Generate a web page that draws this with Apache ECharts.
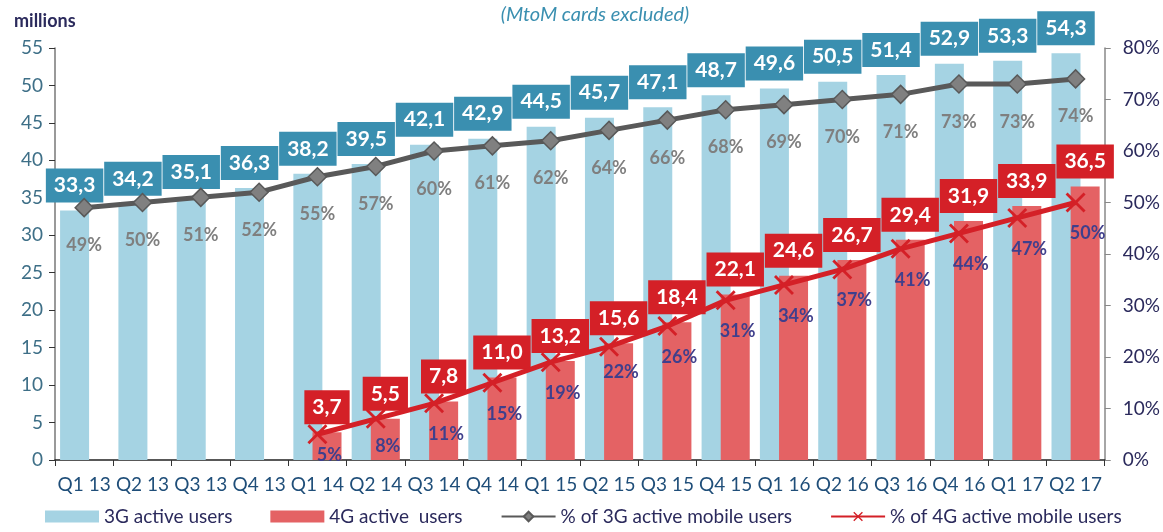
<!DOCTYPE html>
<html>
<head>
<meta charset="utf-8">
<script src="https://cdn.jsdelivr.net/npm/echarts@6/dist/echarts.min.js"></script>
<style>
  html, body { margin: 0; padding: 0; background: #fff; }
  #chart { width: 1163px; height: 532px; }
</style>
</head>
<body>
<div id="chart"></div>
<script>
// quarters shown on the x axis
const quarters = ['Q1 13', 'Q2 13', 'Q3 13', 'Q4 13', 'Q1 14', 'Q2 14', 'Q3 14', 'Q4 14',
  'Q1 15', 'Q2 15', 'Q3 15', 'Q4 15', 'Q1 16', 'Q2 16', 'Q3 16', 'Q4 16', 'Q1 17', 'Q2 17'];

// active users, millions
const users3G = [33.3, 34.2, 35.1, 36.3, 38.2, 39.5, 42.1, 42.9, 44.5, 45.7, 47.1, 48.7,
  49.6, 50.5, 51.4, 52.9, 53.3, 54.3];
const users4G = [null, null, null, null, 3.7, 5.5, 7.8, 11.0, 13.2, 15.6, 18.4, 22.1,
  24.6, 26.7, 29.4, 31.9, 33.9, 36.5];

// share of active mobile users, %
const share3G = [49, 50, 51, 52, 55, 57, 60, 61, 62, 64, 66, 68, 69, 70, 71, 73, 73, 74];
const share4G = [null, null, null, null, 5, 8, 11, 15, 19, 22, 26, 31, 34, 37, 41, 44, 47, 50];

const FONT = 'Lato, "Open Sans", sans-serif';
const CROSS = 'path://M2,0L10,8L18,0L20,2L12,10L20,18L18,20L10,12L2,20L0,18L8,10L0,2Z';

const comma = v => v.toFixed(1).replace('.', ',');

// a few 4G % labels sit closer to their point in the original
const nearLabel = { 4: 2, 5: 8, 9: 6 };

const boxLabel = (bg) => ({
  show: true,
  position: 'top',
  distance: 8,
  formatter: p => comma(p.value),
  backgroundColor: bg,
  color: '#fff',
  fontFamily: FONT,
  fontWeight: 'bold',
  fontSize: 21,
  lineHeight: 24,
  padding: [5, 8]
});

const chart = echarts.init(document.getElementById('chart'));

chart.setOption({
  animation: false,
  title: [
    { text: 'millions', left: 9, top: 7,
      textStyle: { fontFamily: FONT, fontSize: 18, fontWeight: 'bold', color: '#2B2A5C' } },
    { text: '(MtoM cards excluded)', left: 590, top: 0, textAlign: 'center',
      textStyle: { fontFamily: FONT, fontSize: 20, fontStyle: 'italic', fontWeight: 'normal', color: '#3A8FB0' } }
  ],
  grid: { left: 55, right: 58, top: 48, bottom: 72 },
  legend: {
    left: 40, bottom: 1,
    itemWidth: 54, itemHeight: 12, itemGap: 38,
    textStyle: { fontFamily: FONT, fontSize: 19, color: '#2B2A5C' },
    data: [
      { name: '3G active users', icon: 'rect' },
      { name: '4G active  users', icon: 'rect' },
      { name: '% of 3G active mobile users' },
      { name: '% of 4G active mobile users' }
    ]
  },
  xAxis: {
    type: 'category',
    data: quarters,
    axisLine: { lineStyle: { color: '#222', width: 1.5 } },
    axisTick: { show: true, length: 6, lineStyle: { color: '#333' } },
    axisLabel: { fontFamily: FONT, fontSize: 19, color: '#1F4E79', margin: 15, interval: 0 }
  },
  yAxis: [
    {
      type: 'value', min: 0, max: 55, interval: 5,
      axisLine: { show: true, lineStyle: { color: '#777', width: 1.5 } },
      axisTick: { show: true, length: 6, lineStyle: { color: '#333' } },
      splitLine: { show: false },
      axisLabel: { fontFamily: FONT, fontSize: 19, color: '#3E6F87', margin: 12 }
    },
    {
      type: 'value', min: 0, max: 80, interval: 10,
      axisLine: { show: true, lineStyle: { color: '#888', width: 1.5 } },
      axisTick: { show: true, length: 6, lineStyle: { color: '#888' } },
      splitLine: { show: false },
      axisLabel: { fontFamily: FONT, fontSize: 19, color: '#2B2A5C', margin: 18, formatter: '{value}%' }
    }
  ],
  series: [
    {
      name: '3G active users',
      type: 'bar',
      data: users3G,
      barWidth: 29,
      barGap: '-34%',
      itemStyle: { color: '#A5D3E3' },
      label: boxLabel('#3A8FB0'),
      z: 2
    },
    {
      name: '4G active  users',
      type: 'bar',
      data: users4G,
      barWidth: 29,
      barGap: '-34%',
      itemStyle: { color: '#E46264' },
      label: boxLabel('#D42027'),
      z: 3
    },
    {
      name: '% of 3G active mobile users',
      type: 'line',
      yAxisIndex: 1,
      data: share3G,
      symbol: 'diamond',
      symbolSize: 18,
      lineStyle: { color: '#595959', width: 5 },
      itemStyle: { color: '#808080', borderColor: '#595959', borderWidth: 1.5 },
      label: {
        show: true, position: 'bottom', distance: 19,
        formatter: '{c}%',
        fontFamily: FONT, fontSize: 18, fontWeight: 'bold', color: '#7F7F7F'
      },
      z: 5
    },
    {
      name: '% of 4G active mobile users',
      type: 'line',
      yAxisIndex: 1,
      data: share4G.map((v, i) => nearLabel[i] === undefined ? v
        : { value: v, label: { distance: nearLabel[i] } }),
      symbol: CROSS,
      symbolSize: 20,
      lineStyle: { color: '#D42027', width: 5 },
      itemStyle: { color: '#D42027' },
      label: {
        show: true, position: 'bottom', distance: 12, offset: [12, 0],
        formatter: '{c}%',
        fontFamily: FONT, fontSize: 18, fontWeight: 'bold', color: '#3F3F8C'
      },
      z: 6
    }
  ]
});
</script>
</body>
</html>
